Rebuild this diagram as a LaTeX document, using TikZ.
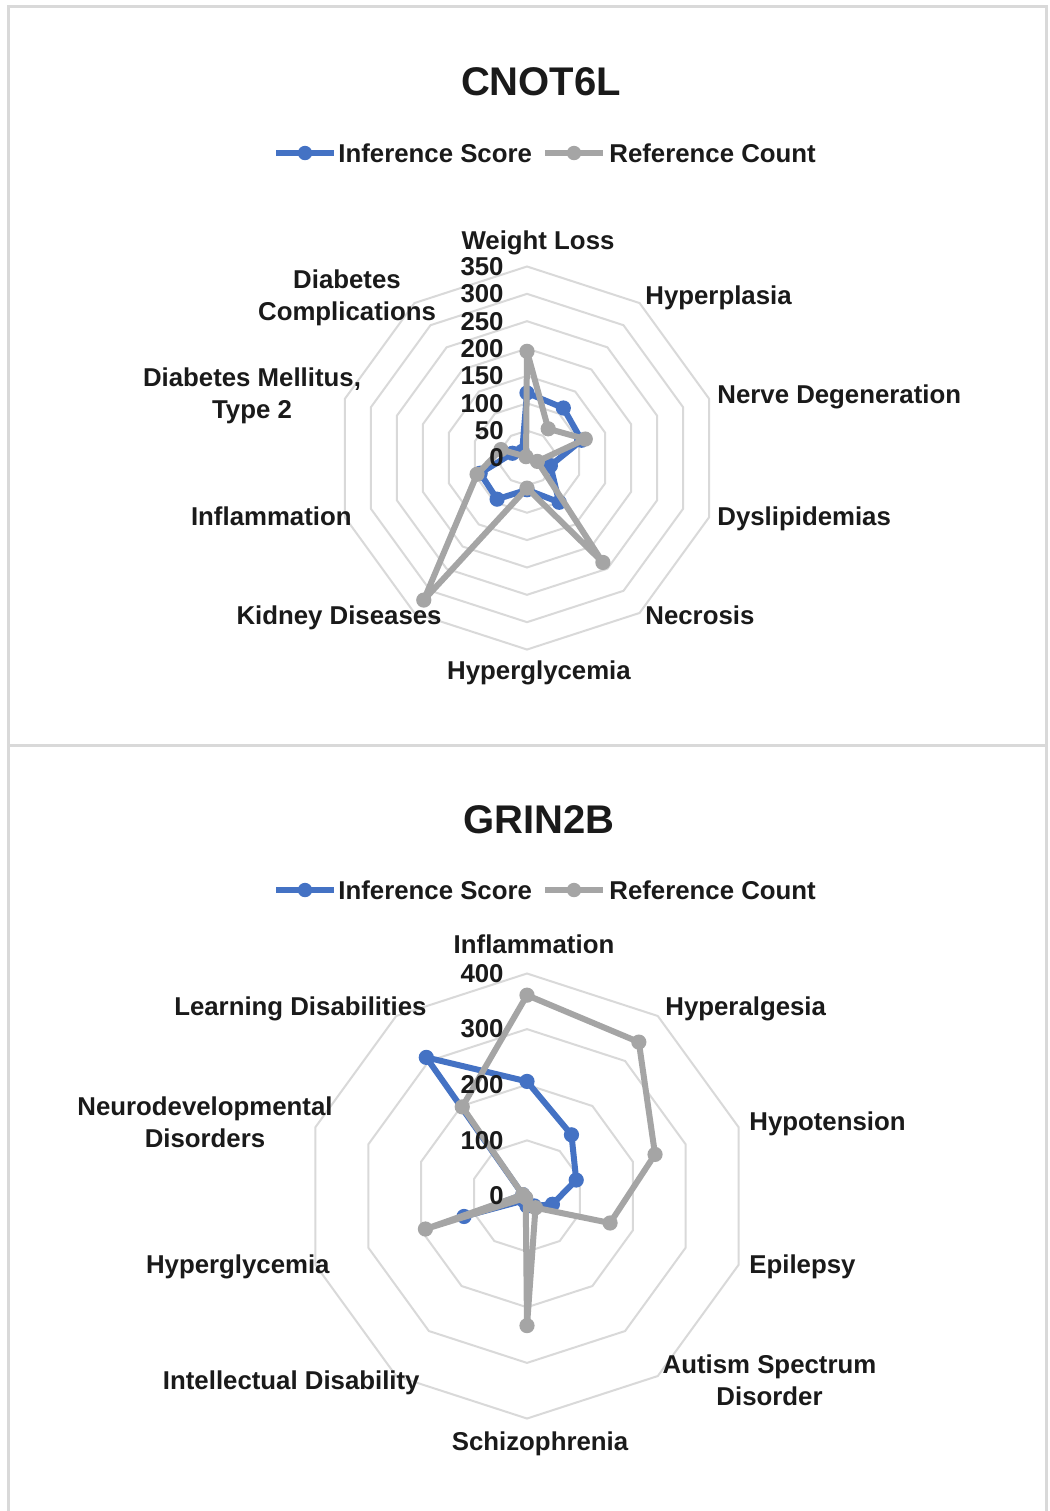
\documentclass[tikz,border=0pt]{standalone}
\usepackage{fontspec}
\setmainfont{Liberation Sans}
\usetikzlibrary{positioning}
\definecolor{infblue}{HTML}{4472C4}
\definecolor{refgrey}{HTML}{A5A5A5}
\definecolor{ringgrey}{HTML}{D9D9D9}
\definecolor{txt}{HTML}{1A1A1A}

\begin{document}
\begin{tikzpicture}[x=0.5pt, y=-0.5pt,
    every node/.style={inner sep=0pt, text=txt, font=\bfseries\fontsize{12.9}{15.75}\selectfont},
    title/.style={font=\bfseries\fontsize{20}{24}\selectfont},
    ring/.style={draw=ringgrey, line width=1pt},
    frame/.style={draw=ringgrey, line width=1.5pt},
    infline/.style={draw=infblue, line width=3pt, line join=round},
    refline/.style={draw=refgrey, line width=3pt, line join=round}]

  \useasboundingbox (0,0) rectangle (1050,1511);
  \fill[white] (0,0) rectangle (1050,1511);
  \draw[frame] (8,1511) -- (8,6) -- (1046,6) -- (1046,1511);
  \draw[frame] (8,745) -- (1046,745);

  % CNOT6L
  \node[title] (cnotTitle) at (541,82) {CNOT6L};
  \node[anchor=west] (cnotLegInf) at (338,153) {Inference Score};
  \node[anchor=west] (cnotLegRef) at (609,153) {Reference Count};
  \draw[infline] ([xshift=-31pt]cnotLegInf.west) -- ([xshift=-2pt]cnotLegInf.west);
  \fill[infblue] ([xshift=-16.5pt]cnotLegInf.west) circle[radius=3.6pt];
  \draw[refline] ([xshift=-32pt]cnotLegRef.west) -- ([xshift=-3pt]cnotLegRef.west);
  \fill[refgrey] ([xshift=-17.5pt]cnotLegRef.west) circle[radius=3.6pt];

  \begin{scope}[shift={(527,458)}]
    \foreach \k in {1,...,7}
      \draw[ring] (-90:{\k*27.36}) \foreach \a in {36,72,...,324} {-- ({\a-90}:{\k*27.36})} -- cycle;
    \foreach \v [count=\i from 0] in {119,113,105,45,100,58,93,90,28,15}
      \coordinate (cnotInf\i) at ({\i*36-90}:{\v*0.5471});
    \foreach \v [count=\i from 0] in {195,66,112,20,236,55,321,96,50,3}
      \coordinate (cnotRef\i) at ({\i*36-90}:{\v*0.5471});
    \draw[infline] (cnotInf0) \foreach \i in {1,...,9} {-- (cnotInf\i)} -- cycle;
    \foreach \i in {0,...,9} \fill[infblue] (cnotInf\i) circle[radius=3.8pt];
    \draw[refline] (cnotRef0) \foreach \i in {1,...,9} {-- (cnotRef\i)} -- cycle;
    \foreach \i in {0,...,9} \fill[refgrey] (cnotRef\i) circle[radius=3.8pt];
    \foreach \v in {0,50,...,350}
      \node[anchor=east] (cnotTick\v) at (-23,{-\v*0.5471}) {\v};
  \end{scope}

  \node[anchor=base] (cnotWL) at (538,249.5) {Weight Loss};
  \node[anchor=base west] (cnotHP) at (645,304.5) {Hyperplasia};
  \node[anchor=base west] (cnotND) at (717,403.5) {Nerve Degeneration};
  \node[anchor=base west] (cnotDL) at (717,525.5) {Dyslipidemias};
  \node[anchor=base west] (cnotNC) at (645,624.5) {Necrosis};
  \node[anchor=base] (cnotHG) at (539,679.5) {Hyperglycemia};
  \node[anchor=base east] (cnotKD) at (442,624.5) {Kidney Diseases};
  \node[anchor=base east] (cnotIF) at (352,525.5) {Inflammation};
  \node[anchor=base, align=center] (cnotDM) at (252,418) {Diabetes Mellitus,\\Type 2};
  \node[anchor=base, align=center] (cnotDC) at (347,320) {Diabetes\\Complications};

  % GRIN2B
  \node[title] (grinTitle) at (539,820) {GRIN2B};
  \node[anchor=west] (grinLegInf) at (338,890) {Inference Score};
  \node[anchor=west] (grinLegRef) at (609,890) {Reference Count};
  \draw[infline] ([xshift=-31pt]grinLegInf.west) -- ([xshift=-2pt]grinLegInf.west);
  \fill[infblue] ([xshift=-16.5pt]grinLegInf.west) circle[radius=3.6pt];
  \draw[refline] ([xshift=-32pt]grinLegRef.west) -- ([xshift=-3pt]grinLegRef.west);
  \fill[refgrey] ([xshift=-17.5pt]grinLegRef.west) circle[radius=3.6pt];

  \begin{scope}[shift={(527,1196)}]
    \foreach \k in {1,...,4}
      \draw[ring] (-90:{\k*55.63}) \foreach \a in {36,72,...,324} {-- ({\a-90}:{\k*55.63})} -- cycle;
    \foreach \v [count=\i from 0] in {206,136,93,48,22,18,10,119,8,308}
      \coordinate (grinInf\i) at ({\i*36-90}:{\v*0.5563});
    \foreach \v [count=\i from 0] in {361,342,242,157,26,233,4,192,8,198}
      \coordinate (grinRef\i) at ({\i*36-90}:{\v*0.5563});
    \draw[infline] (grinInf0) \foreach \i in {1,...,9} {-- (grinInf\i)} -- cycle;
    \foreach \i in {0,...,9} \fill[infblue] (grinInf\i) circle[radius=3.8pt];
    \draw[refline] (grinRef0) \foreach \i in {1,...,9} {-- (grinRef\i)} -- cycle;
    \foreach \i in {0,...,9} \fill[refgrey] (grinRef\i) circle[radius=3.8pt];
    \foreach \v in {0,100,...,400}
      \node[anchor=east] (grinTick\v) at (-23,{-\v*0.5563}) {\v};
  \end{scope}

  \node[anchor=base] (grinIF) at (534,953.5) {Inflammation};
  \node[anchor=base west] (grinHA) at (665,1015.5) {Hyperalgesia};
  \node[anchor=base west] (grinHT) at (749,1130.5) {Hypotension};
  \node[anchor=base west] (grinEP) at (749,1273.5) {Epilepsy};
  \node[anchor=base, align=center] (grinAS) at (769.5,1405) {Autism Spectrum\\Disorder};
  \node[anchor=base] (grinSZ) at (540,1450.5) {Schizophrenia};
  \node[anchor=base east] (grinID) at (420,1389.5) {Intellectual Disability};
  \node[anchor=base east] (grinHG) at (330,1273.5) {Hyperglycemia};
  \node[anchor=base, align=center] (grinND) at (205,1147) {Neurodevelopmental\\Disorders};
  \node[anchor=base east] (grinLD) at (427,1015.5) {Learning Disabilities};
\end{tikzpicture}
\end{document}
